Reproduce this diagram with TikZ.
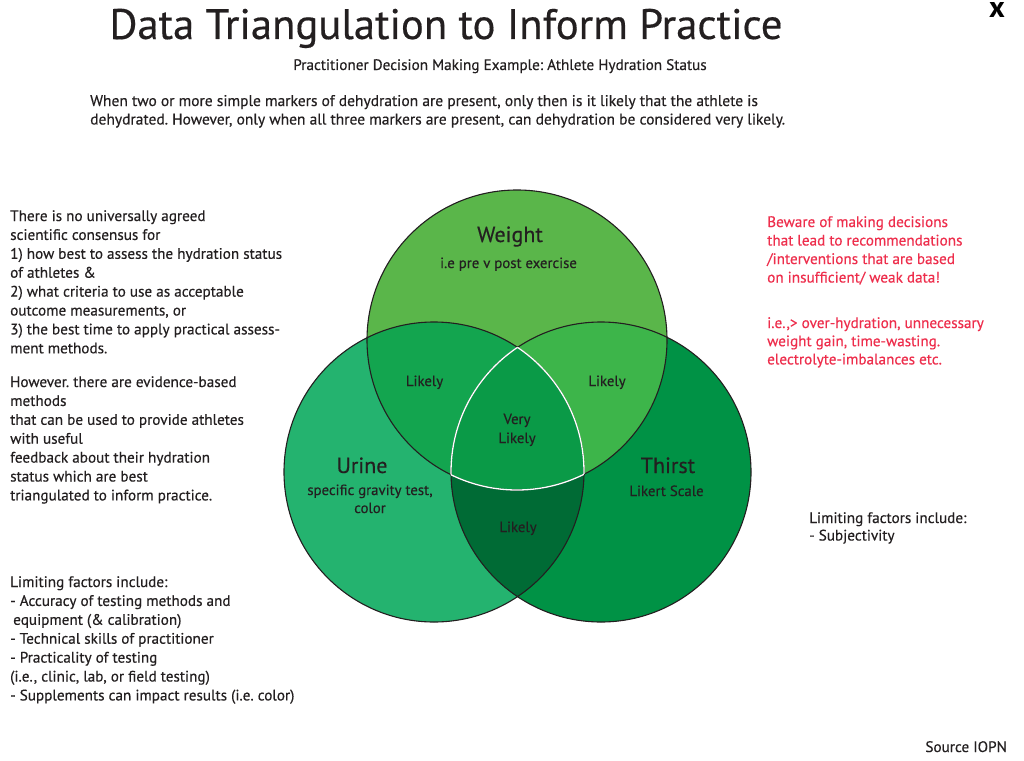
\documentclass[tikz,border=0pt]{standalone}
\usepackage{fontspec}
\setmainfont{PT Sans}[FakeBold=0.35]
\newfontfamily\boldx{PT Sans Bold}
\frenchspacing
\definecolor{ink}{HTML}{231F20}
\definecolor{warn}{HTML}{EE2E4C}
\definecolor{cW}{HTML}{5AB64A}
\definecolor{cU}{HTML}{24B36F}
\definecolor{cT}{HTML}{009245}
\definecolor{cWU}{HTML}{13A54F}
\definecolor{cWT}{HTML}{3DB54A}
\definecolor{cUT}{HTML}{006B35}
\definecolor{cC}{HTML}{0A9A47}
\newcommand\bodysize{\fontsize{15.2}{18}\selectfont}
\newcommand\putlines[5]{%
  \foreach \t [count=\i from 0] in {#5} {%
    \node[txtline] (#1\i) at (#2,{#3+#4*\i}) {\t};}}
\begin{document}
\begin{tikzpicture}[x=1pt,y=-1pt,
  txtline/.style={anchor=base west,inner sep=0pt,font=\bodysize,text=ink},
  introline/.style={txtline,font=\fontsize{15.5}{18}\selectfont},
  redline/.style={txtline,text=warn},
  vlabel/.style={anchor=base,inner sep=0pt,font=\fontsize{14.8}{17}\selectfont,text=ink},
  vtitle/.style={anchor=base,inner sep=0pt,font=\fontsize{22}{26}\selectfont,text=ink},
  ring/.style={draw=ink,line width=1.1pt},
  whitering/.style={draw=white,line width=1.3pt}]
\useasboundingbox (0,0) rectangle (1024,760);
\fill[white] (0,0) rectangle (1024,760);
\def\R{150}
\coordinate (W) at (517,340);
\coordinate (U) at (434,472);
\coordinate (T) at (601,472);
% fills
\fill[cW] (W) circle[radius=\R];
\fill[cU] (U) circle[radius=\R];
\fill[cT] (T) circle[radius=\R];
\begin{scope}\clip (W) circle[radius=\R]; \fill[cWU] (U) circle[radius=\R];\end{scope}
\begin{scope}\clip (W) circle[radius=\R]; \fill[cWT] (T) circle[radius=\R];\end{scope}
\begin{scope}\clip (U) circle[radius=\R]; \fill[cUT] (T) circle[radius=\R];\end{scope}
\begin{scope}\clip (W) circle[radius=\R]; \clip (U) circle[radius=\R]; \fill[cC] (T) circle[radius=\R];\end{scope}
% outlines
\path[ring] (W) circle[radius=\R];
\path[ring] (U) circle[radius=\R];
\path[ring] (T) circle[radius=\R];
\begin{scope}\clip (W) circle[radius=\R]; \clip (U) circle[radius=\R]; \path[whitering] (T) circle[radius=\R];\end{scope}
\begin{scope}\clip (W) circle[radius=\R]; \clip (T) circle[radius=\R]; \path[whitering] (U) circle[radius=\R];\end{scope}
\begin{scope}\clip (U) circle[radius=\R]; \clip (T) circle[radius=\R]; \path[whitering] (W) circle[radius=\R];\end{scope}
% venn labels
\node[vtitle] (wt) at (510,242) {Weight};
\node[vlabel] (ws) at (508.5,268) {i.e pre v post exercise};
\node[vlabel] (lwu) at (424.5,386) {Likely};
\node[vlabel] (lwt) at (607,386) {Likely};
\node[vlabel] (vl1) at (517,424) {Very};
\node[vlabel] (vl2) at (517,443) {Likely};
\node[vtitle] (ut) at (362,473) {Urine};
\node[vlabel] (us1) at (370,495) {specific gravity test,};
\node[vlabel] (us2) at (370,513) {color};
\node[vtitle] (tt) at (668,473) {Thirst};
\node[vlabel] (ts) at (666.5,496) {Likert Scale};
\node[vlabel] (lut) at (518,532) {Likely};
% header
\node[anchor=base,inner sep=0pt,font=\fontsize{42.7}{48}\selectfont,text=ink] (title) at (446,39) {Data Triangulation to Inform Practice};
\node[anchor=base,inner sep=0pt,font=\fontsize{15.2}{18}\selectfont,text=ink] (sub) at (500,70) {Practitioner Decision Making Example: Athlete Hydration Status};
\foreach \t [count=\i from 0] in {{When two or more simple markers of dehydration are present, only then is it likely that the athlete is},{dehydrated. However, only when all three markers are present, can dehydration be considered very likely.}} {\node[introline] (intro\i) at (90,{106+18.5*\i}) {\t};}
\node[anchor=base,inner sep=0pt,font=\boldx\fontsize{30}{30}\selectfont,text=black] (close) at (997,18) {x};
% left text
\putlines{a}{10}{221}{18.9}{{There is no universally agreed},{scientific consensus for},{1) how best to assess the hydration status},{of athletes \&},{2) what criteria to use as acceptable},{outcome measurements, or},{3) the best time to apply practical assess-},{ment methods.}}
\putlines{b}{10}{387}{18.9}{{However. there are evidence-based},{methods},{that can be used to provide athletes},{with useful},{feedback about their hydration},{status which are best},{triangulated to inform practice.}}
\putlines{c}{10}{587}{18.9}{{Limiting factors include:},{- Accuracy of testing methods and},{\hspace{3pt}equipment (\& calibration)},{- Technical skills of practitioner},{- Practicality of testing},{(i.e., clinic, lab, or field testing)},{- Supplements can impact results (i.e. color)}}
% right text
\foreach \t [count=\i from 0] in {{Beware of making decisions},{that lead to recommendations},{/interventions that are based},{on insufficient/ weak data!}} {\node[redline] (r\i) at (767,{227+18.5*\i}) {\t};}
\foreach \t [count=\i from 0] in {{i.e.,> over-hydration, unnecessary},{weight gain, time-wasting.},{electrolyte-imbalances etc.}} {\node[redline] (s\i) at (767,{328+18.2*\i}) {\t};}
\putlines{d}{809}{523}{17.5}{{Limiting factors include:},{- Subjectivity}}
\node[anchor=base east,inner sep=0pt,font=\bodysize,text=ink] (src) at (1007,752) {Source IOPN};
\end{tikzpicture}
\end{document}
